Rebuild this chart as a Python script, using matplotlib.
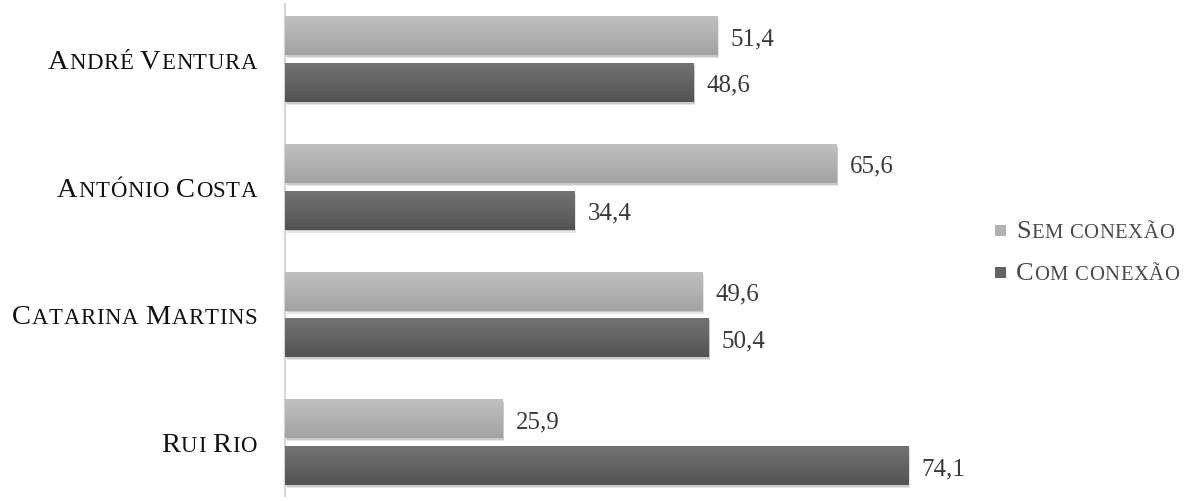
import numpy as np
import matplotlib.pyplot as plt
from matplotlib.transforms import IdentityTransform, ScaledTranslation
from matplotlib.colors import LinearSegmentedColormap
from matplotlib.patches import Rectangle

plt.rcParams['font.family'] = ['Liberation Serif', 'DejaVu Serif']

candidatos = ['André Ventura', 'António Costa', 'Catarina Martins', 'Rui Rio']
sem_conexao = [51.4, 65.6, 49.6, 25.9]
com_conexao = [48.6, 34.4, 50.4, 74.1]
series = ['Sem conexão', 'Com conexão']

W, H = 1194, 502
fig = plt.figure(figsize=(W / 100, H / 100), dpi=100)
ax = fig.add_axes([285 / W, 0.01, 1 - 285 / W, 0.98])

light = LinearSegmentedColormap.from_list('light', ['#a2a2a2', '#c0c0c0'])
dark = LinearSegmentedColormap.from_list('dark', ['#535353', '#737373'])

y = np.arange(len(candidatos))
h = 0.305
off = 0.183
grad = np.linspace(0, 1, 64).reshape(-1, 1)


def gradient_bars(vals, pos, cmap):
    bars = ax.barh(pos, vals, height=h, color=cmap(0.5), zorder=2)
    for b in bars:
        x0, y0 = b.get_x(), b.get_y()
        w, hh = b.get_width(), b.get_height()
        # soft drop shadow
        for k, a in [(1.0, 0.10), (0.6, 0.12)]:
            s = Rectangle((x0, y0), w, hh, color='k', alpha=a, lw=0, zorder=1,
                          transform=ax.transData + ScaledTranslation(k * 1.5 / 100, -k * 3 / 100, fig.dpi_scale_trans))
            ax.add_patch(s)
        im = ax.imshow(grad, extent=[x0, x0 + w, y0, y0 + hh], aspect='auto',
                       cmap=cmap, origin='upper', zorder=3)
        im.set_clip_path(b)
    return bars


b1 = gradient_bars(sem_conexao, y - off, light)
b2 = gradient_bars(com_conexao, y + off, dark)

px_per_unit = 8.41
ax.set_xlim(0, (W - 285) / px_per_unit)
ax.set_ylim(3.422, -0.431)
ax.set_xticks([])
ax.set_yticks([])
for sp in ['top', 'right', 'bottom']:
    ax.spines[sp].set_visible(False)
ax.spines['left'].set_color('#d6d6d6')
ax.spines['left'].set_linewidth(1.6)

for bars, vals in [(b1, sem_conexao), (b2, com_conexao)]:
    for b, v in zip(bars, vals):
        ax.annotate(f'{v:.1f}'.replace('.', ','), (v, b.get_y() + b.get_height() / 2),
                    xytext=(13, 0), textcoords='offset pixels', va='center_baseline', ha='left',
                    fontsize=18, color='#3a3a3a')

renderer = fig.canvas.get_renderer()


def small_caps(x, yb, s, big, color, ha='left', ratio=0.8, track=1.0):
    # one glyph per text object so the letters can be spaced out
    texts = []
    for ch in s:
        fs = big if ch.isupper() else big * ratio
        t = fig.text(0, yb, ch.upper(), fontsize=fs, color=color, va='baseline', ha='left',
                     transform=IdentityTransform())
        texts.append(t)
    widths = []
    for t, ch in zip(texts, s):
        if ch == ' ':
            widths.append(t.get_fontsize() * 100 / 72 * 0.25)
        else:
            widths.append(t.get_window_extent(renderer).width)
    total = sum(widths) + track * (len(s) - 1)
    cx = x - total if ha == 'right' else x
    for t, wd in zip(texts, widths):
        t.set_x(cx)
        cx += wd + track


for i, name in enumerate(candidatos):
    yc = H - (60 + 127.7 * i)
    small_caps(257, yc - 9, name, 20.5, '#111111', ha='right', track=0.7)

leg_colors = [light, dark]
for j, (lab, cm) in enumerate(zip(series, leg_colors)):
    yc = H - (231 + 42 * j)
    sq = Rectangle((995 / W, (yc - 6) / H), 11 / W, 11 / H, transform=fig.transFigure,
                   color=cm(0.5), lw=0)
    fig.patches.append(sq)
    small_caps(1016, yc - 7, lab, 19, '#4a4a4a', ratio=0.78, track=0.6)

fig.savefig('out.png', dpi=100)
